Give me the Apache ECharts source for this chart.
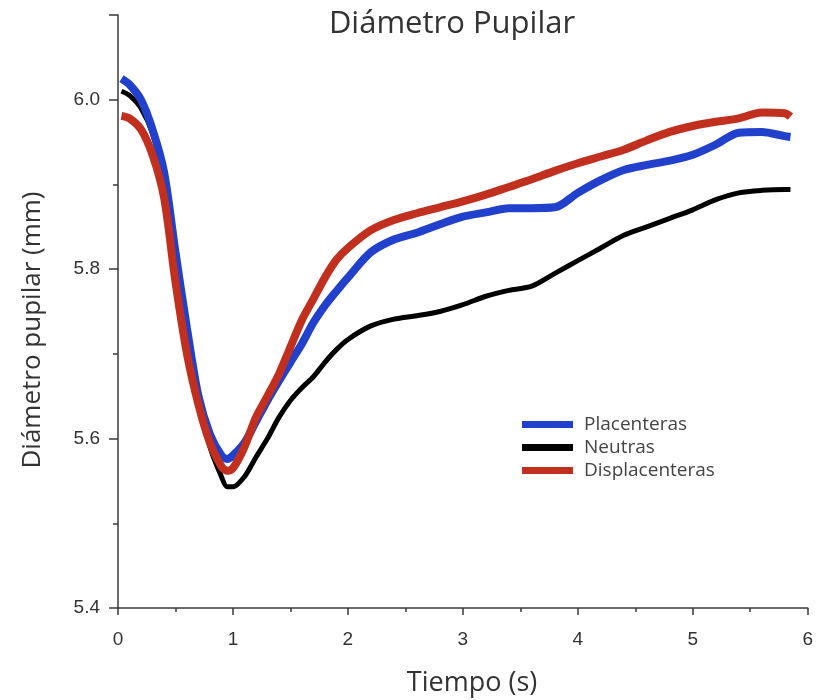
<!DOCTYPE html>
<html>
<head>
<meta charset="utf-8">
<script src="https://cdn.jsdelivr.net/npm/echarts@6/dist/echarts.min.js"></script>
<style>
  html, body { margin: 0; padding: 0; background: #fff; }
  #chart { width: 816px; height: 700px; }
</style>
</head>
<body>
<div id="chart"></div>
<script>
const time = [0.03, 0.1, 0.2, 0.3, 0.4, 0.5, 0.6, 0.7, 0.8, 0.9, 0.95, 1.0, 1.1, 1.2, 1.3, 1.4, 1.5, 1.6, 1.7, 1.8, 1.9,
  2.0, 2.2, 2.4, 2.6, 2.8, 3.0, 3.2, 3.4, 3.6, 3.8, 4.0, 4.2, 4.4, 4.6, 4.8, 5.0, 5.2, 5.4, 5.6, 5.8, 5.85];

const placenteras = [6.025, 6.018, 6.0, 5.965, 5.915, 5.82, 5.73, 5.65, 5.605, 5.58, 5.576, 5.58, 5.595, 5.62, 5.645, 5.668, 5.69, 5.712, 5.737, 5.757, 5.774,
  5.79, 5.82, 5.835, 5.843, 5.853, 5.862, 5.867, 5.872, 5.872, 5.873, 5.89, 5.905, 5.917, 5.923, 5.928, 5.935, 5.947, 5.961, 5.962, 5.957, 5.956];

const neutras = [6.01, 6.005, 5.99, 5.96, 5.905, 5.81, 5.715, 5.645, 5.59, 5.555, 5.543, 5.543, 5.555, 5.578, 5.60, 5.625, 5.645, 5.66, 5.673, 5.69, 5.705,
  5.717, 5.733, 5.741, 5.745, 5.75, 5.758, 5.768, 5.775, 5.78, 5.795, 5.81, 5.825, 5.84, 5.85, 5.86, 5.87, 5.882, 5.89, 5.893, 5.894, 5.894];

const displacenteras = [5.981, 5.978, 5.965, 5.935, 5.885, 5.785, 5.70, 5.64, 5.595, 5.567, 5.562, 5.565, 5.59, 5.625, 5.65, 5.676, 5.708, 5.74, 5.765, 5.79, 5.811,
  5.825, 5.846, 5.858, 5.866, 5.873, 5.88, 5.888, 5.897, 5.906, 5.916, 5.925, 5.933, 5.941, 5.952, 5.962, 5.969, 5.974, 5.978, 5.985, 5.984, 5.98];

const yLabels = ['5.4', '5.6', '5.8', '6.0'];

function pairs(vals) {
  return time.map((t, i) => [t, vals[i]]);
}

const chart = echarts.init(document.getElementById('chart'));
const labelFont = 'Liberation Sans, Arial, sans-serif';
const textFont = 'Open Sans, Lato, sans-serif';
const axisColor = '#3a3a3a';

chart.setOption({
  animation: false,
  title: {
    text: 'Diámetro Pupilar',
    left: 447,
    textAlign: 'center',
    top: 4,
    textStyle: { fontFamily: textFont, fontSize: 31, fontWeight: 'normal', color: '#333' }
  },
  legend: {
    orient: 'vertical',
    left: 517,
    top: 410,
    itemGap: 4,
    itemWidth: 51,
    itemHeight: 7,
    icon: 'rect',
    textStyle: { fontFamily: textFont, fontSize: 19, color: '#444', padding: [0, 0, 0, 6] },
    data: ['Placenteras', 'Neutras', 'Displacenteras']
  },
  graphic: [{
    type: 'text',
    x: 33,
    y: 330,
    rotation: Math.PI / 2,
    style: {
      text: 'Diámetro pupilar (mm)',
      font: '26px "Open Sans", Lato, sans-serif',
      fill: '#333',
      align: 'center',
      verticalAlign: 'middle'
    }
  }, {
    type: 'text',
    x: 472,
    y: 683,
    style: {
      text: 'Tiempo (s)',
      font: '27px "Open Sans", Lato, sans-serif',
      fill: '#333',
      align: 'center',
      verticalAlign: 'middle'
    }
  }],
  grid: { left: 118, right: 6, top: 15, bottom: 92 },
  xAxis: {
    type: 'value',
    min: 0,
    max: 6,
    interval: 1,
    axisLine: { lineStyle: { color: axisColor, width: 1.5 } },
    axisTick: { length: 7, lineStyle: { color: axisColor, width: 1.5 } },
    minorTick: { show: true, splitNumber: 2, length: 4, lineStyle: { color: axisColor, width: 1.5 } },
    axisLabel: { fontFamily: labelFont, fontSize: 19, color: '#333', margin: 22 },
    splitLine: { show: false }
  },
  yAxis: {
    type: 'value',
    min: 5.4,
    max: 6.1,
    interval: 0.2,
    axisLine: { show: true, lineStyle: { color: axisColor, width: 1.5 } },
    axisTick: { show: true, length: 9, lineStyle: { color: axisColor, width: 1.5 } },
    minorTick: { show: true, splitNumber: 2, length: 5, lineStyle: { color: axisColor, width: 1.5 } },
    axisLabel: {
      fontFamily: labelFont, fontSize: 19, color: '#333', margin: 18,
      formatter: v => {
        const s = v.toFixed(1);
        return yLabels.indexOf(s) >= 0 ? s : '';
      }
    },
    splitLine: { show: false },
    minorSplitLine: { show: false }
  },
  series: [
    {
      name: 'Neutras', type: 'line', smooth: 0.3, showSymbol: false, z: 2,
      color: '#000000',
      lineStyle: { width: 5, color: '#000000' },
      data: pairs(neutras)
    },
    {
      name: 'Placenteras', type: 'line', smooth: 0.3, showSymbol: false, z: 3,
      color: '#2140cc',
      lineStyle: { width: 8, color: '#2140cc' },
      data: pairs(placenteras)
    },
    {
      name: 'Displacenteras', type: 'line', smooth: 0.3, showSymbol: false, z: 4,
      color: '#c1301e',
      lineStyle: { width: 8, color: '#c1301e' },
      data: pairs(displacenteras)
    }
  ]
});
</script>
</body>
</html>
